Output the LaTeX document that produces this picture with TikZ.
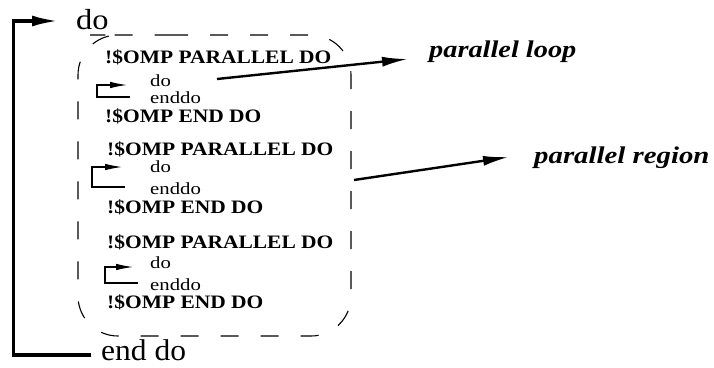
\documentclass[tikz,border=0pt]{standalone}
\usepackage{fontspec}
\setmainfont{Liberation Serif}
\usepackage{graphicx}
\usetikzlibrary{arrows.meta}
\newcommand\sktxt[3]{\fontsize{#1}{#1}\selectfont\scalebox{#2}[1]{#3}}
\begin{document}
\begin{tikzpicture}[x=1pt,y=-1pt,
  lbl/.style={anchor=base west, inner sep=0pt},
  omp/.style={lbl, font=\bfseries},
  bigbracket/.style={line width=3.2pt, line join=miter, -{Latex[length=26pt,width=11pt]}},
  smallloop/.style={line width=1.1pt, -{Latex[length=17pt,width=6.5pt]}},
  callout/.style={line width=2.4pt, -{Latex[length=26pt,width=10pt]}},
  regionbox/.style={line width=1.1pt, dash pattern=on 18pt off 22pt, rounded corners=40pt}]
\useasboundingbox[fill=white] (0,0) rectangle (714,367);

% outer loop texts
\node[lbl] (outerdo) at (76,29) {\sktxt{29}{1.12}{do}};
\node[lbl] (outerend) at (101,360) {\sktxt{30}{1.05}{end do}};

% outer loop bracket
\coordinate (obot) at (91,355);
\coordinate (ocorner) at (13.5,355);
\coordinate (otip) at (58,21);
\draw[bigbracket] (obot) -- (ocorner) |- (otip);

% dashed parallel region
\draw[regionbox] (130,35) -- (351,35) -- (351,336) -- (78,336) -- (78,35) -- cycle;

% block 1
\node[omp] (p1) at (105,63) {\sktxt{19}{1.13}{!\$OMP PARALLEL DO}};
\node[lbl] (d1) at (150,86) {\sktxt{17}{1.22}{do}};
\node[lbl] (e1) at (150,103) {\sktxt{17}{1.22}{enddo}};
\node[omp] (x1) at (105,122) {\sktxt{19}{1.13}{!\$OMP END DO}};
\coordinate (l1b) at (130,97);
\coordinate (l1c) at (97,97);
\coordinate (l1t) at (127,85);
\draw[smallloop] (l1b) -- (l1c) |- (l1t);

% block 2
\node[omp] (p2) at (107,155) {\sktxt{19}{1.13}{!\$OMP PARALLEL DO}};
\node[lbl] (d2) at (150,172) {\sktxt{17}{1.22}{do}};
\node[lbl] (e2) at (150,194) {\sktxt{17}{1.22}{enddo}};
\node[omp] (x2) at (107,213) {\sktxt{19}{1.13}{!\$OMP END DO}};
\coordinate (l2b) at (125,187);
\coordinate (l2c) at (92,187);
\coordinate (l2t) at (122,167);
\draw[smallloop] (l2b) -- (l2c) |- (l2t);

% block 3
\node[omp] (p3) at (107,248) {\sktxt{19}{1.13}{!\$OMP PARALLEL DO}};
\node[lbl] (d3) at (150,268) {\sktxt{17}{1.22}{do}};
\node[lbl] (e3) at (150,290) {\sktxt{17}{1.22}{enddo}};
\node[omp] (x3) at (107,308) {\sktxt{19}{1.13}{!\$OMP END DO}};
\coordinate (l3b) at (138,283);
\coordinate (l3c) at (105,283);
\coordinate (l3t) at (133,267);
\draw[smallloop] (l3b) -- (l3c) |- (l3t);

% callouts
\node[lbl, font=\bfseries\itshape] (ploop) at (429,57) {\sktxt{24}{1.18}{parallel loop}};
\node[lbl, font=\bfseries\itshape] (pregion) at (534,163) {\sktxt{24}{1.2}{parallel region}};
\coordinate (ploopfrom) at (217,79);
\coordinate (plooptip) at (408,59);
\coordinate (pregfrom) at (354,180);
\coordinate (pregtip) at (509,157);
\draw[callout] (ploopfrom) -- (plooptip);
\draw[callout] (pregfrom) -- (pregtip);
\end{tikzpicture}
\end{document}
